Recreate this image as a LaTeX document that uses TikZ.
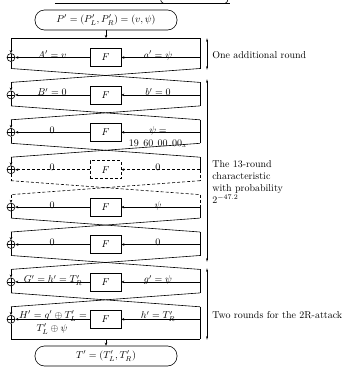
\documentclass[tikz,border=0pt]{standalone}
\usetikzlibrary{arrows.meta}
\begin{document}
\begin{tikzpicture}[x=1pt,y=-1pt,line width=0.6pt,
  arr/.style={-{Stealth[length=3pt,width=2.6pt]}},
  darr/.style={{Stealth[length=4pt,width=1.8pt]}-{Stealth[length=4pt,width=1.8pt]}},
  fbox/.style={draw,minimum width=31pt,minimum height=18pt,inner sep=0pt},
  xorc/.style={draw,solid,circle,minimum size=8pt,inner sep=0pt,
    path picture={\draw[solid] (path picture bounding box.north) -- (path picture bounding box.south)
      (path picture bounding box.west) -- (path picture bounding box.east);}},
  pbox/.style={draw,rounded corners=9.5pt,minimum width=142pt,minimum height=20pt,inner sep=0pt},
  lbl/.style={anchor=base,inner sep=0pt},
  dsh/.style={dash pattern=on 3pt off 2pt},
  lo1/.style={},lo2/.style={},lo3/.style={},lo4/.style={dsh},lo5/.style={},lo6/.style={},lo7/.style={},lo8/.style={},
  hi1/.style={},hi2/.style={},hi3/.style={},hi4/.style={},hi5/.style={dsh},hi6/.style={},hi7/.style={},hi8/.style={}]
\useasboundingbox (0,0) rectangle (346,368);

% cut-off fragment at the top
\draw (55,3) -- (230,3);
\draw (160.5,-1) .. controls (161,1.8) .. (163.5,3.5);
\draw (228,-1) .. controls (227.5,1.8) .. (225,3.5);

% rounds
\foreach \k in {1,...,8}{
  \pgfmathsetmacro{\yy}{57.5+37.4*(\k-1)}
  \node[xorc] (x\k) at (11,\yy) {};
  \node[fbox,lo\k] (f\k) at (105.5,\yy) {$F$};
  \coordinate (r\k) at (200,\yy);
  \coordinate (lt\k) at (11,\yy-12.5);
  \coordinate (rt\k) at (200,\yy-12.5);
  \coordinate (lb\k) at (11,\yy+11);
  \coordinate (rb\k) at (200,\yy+11);
}
\coordinate (lt1) at (11,38);  \coordinate (rt1) at (200,38);
\coordinate (lb8) at (11,339); \coordinate (rb8) at (200,339);

\foreach \k in {1,...,8}{
  \draw[arr,lo\k] (r\k) -- (f\k);
  \draw[arr,lo\k] (f\k) -- (x\k);
  \draw[arr,hi\k] (lt\k) -- (x\k);
  \draw[lo\k] (x\k) -- (lb\k);
  \draw[hi\k] (rt\k) -- (r\k);
  \draw[lo\k] (r\k) -- (rb\k);
}
\foreach \k [evaluate=\k as \n using int(\k+1)] in {1,...,7}{
  \draw[lo\k] (lb\k) -- (rt\n);
  \draw[lo\k] (rb\k) -- (lt\n);
}

% input / output
\node[pbox] (P) at (106,20) {$P' = (P'_L, P'_R) = (v, \psi)$};
\draw (lt1) -- (rt1);
\draw[arr] (P) -- (P |- lt1);
\node[pbox] (T) at (106,356) {$T' = (T'_L, T'_R)$};
\draw (lb8) -- (rb8);
\draw[arr] (T |- lb8) -- (T);

% labels
\node[lbl] (la1) at (52,58.5) {$A' = v$};
\node[lbl] (ra1) at (158,58.5) {$a' = \psi$};
\node[lbl] (la2) at (52,95.9) {$B' = 0$};
\node[lbl] (ra2) at (158,95.9) {$b' = 0$};
\node[lbl] (la3) at (52,133.3) {$0$};
\node[lbl] (ra3) at (158,133.3) {$\psi =$};
\node[lbl] (rb3) at (158,146.3) {$19\;\,60\;\,00\;\,00_x$};
\node[lbl] (la4) at (52,170.7) {$0$};
\node[lbl] (ra4) at (158,170.7) {$0$};
\node[lbl] (la5) at (52,208.1) {$0$};
\node[lbl] (ra5) at (158,208.1) {$\psi$};
\node[lbl] (la6) at (52,245.5) {$0$};
\node[lbl] (ra6) at (158,245.5) {$0$};
\node[lbl] (la7) at (53,282.9) {$G' = h' = T'_R$};
\node[lbl] (ra7) at (158,282.9) {$g' = \psi$};
\node[lbl] (la8) at (53,318.3) {$H' = g' \oplus T'_L =$};
\node[lbl] (lb8t) at (52,331.3) {$T'_L \oplus \psi$};
\node[lbl] (ra8) at (158,318.8) {$h' = T'_R$};

% annotations
\coordinate (a1t) at (207,38);  \coordinate (a1b) at (207,70);
\coordinate (a2t) at (207,79);  \coordinate (a2b) at (207,262);
\coordinate (a3t) at (207,268); \coordinate (a3b) at (207,340);
\draw[darr] (a1t) -- (a1b);
\draw[darr] (a2t) -- (a2b);
\draw[darr] (a3t) -- (a3b);
\node[anchor=west,inner sep=0pt] (t1) at (212,55) {One additional round};
\node[anchor=west,inner sep=0pt,align=left] (t2) at (212,182) {The 13-round\\characteristic\\with probability\\$2^{-47.2}$};
\node[anchor=west,inner sep=0pt] (t3) at (212,315) {Two rounds for the 2R-attack};
\end{tikzpicture}
\end{document}
